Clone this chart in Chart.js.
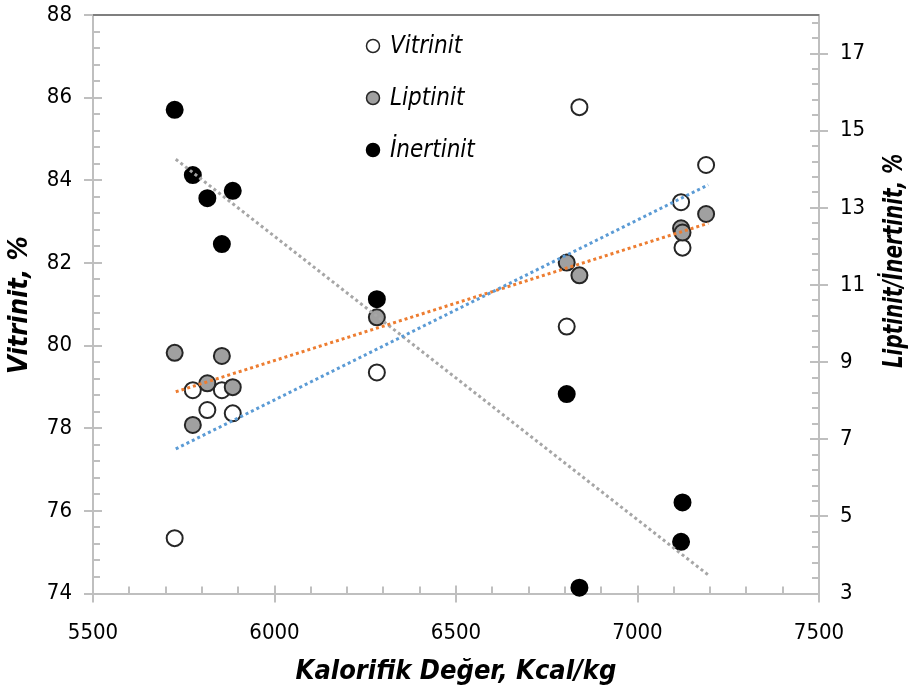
<!DOCTYPE html>
<html lang="tr">
<head>
<meta charset="UTF-8">
<title>Kalorifik Değer - Maseral</title>
<script src="https://cdn.jsdelivr.net/npm/chart.js"></script>
<style>
  html, body { margin: 0; padding: 0; background: #fff; }
  #wrap { width: 912px; height: 698px; }
</style>
</head>
<body>
<div id="wrap"><canvas id="chart" width="912" height="698"></canvas></div>
<script>
// values
const kalori    = [5725, 5775, 5815, 5855, 5885, 6282, 6805, 6840, 7120, 7124, 7189];
const vitrinit  = [75.34, 78.92, 78.44, 78.92, 78.36, 79.35, 80.46, 85.77, 83.47, 82.37, 84.37];
const liptinit  = [9.24, 7.37, 8.45, 9.16, 8.35, 10.16, 11.58, 11.25, 12.47, 12.36, 12.84];
const inertinit = [15.54, 13.85, 13.25, 12.06, 13.44, 10.63, 8.17, 3.15, 4.34, 5.36, null];

// dotted trend lines (end points)
const trendX   = [5728, 7195];
const trendVit = [77.50, 83.89];
const trendLip = [8.23, 12.60];
const trendIne = [14.26, 3.48];

const xTicks = [5500, 6000, 6500, 7000, 7500];
const leftTicks = [74, 76, 78, 80, 82, 84, 86, 88];
const rightTicks = [3, 5, 7, 9, 11, 13, 15, 17];

const FONT = "'Liberation Sans Narrow', 'DejaVu Sans Condensed', sans-serif";

function pts(xs, ys) {
    const out = [];
    xs.forEach((x, i) => { if (ys[i] != null) out.push({x: x, y: ys[i]}); });
    return out;
}

function fixTicks(list) {
    return function (axis) { axis.ticks = list.map(v => ({value: v})); };
}

// rotated title, squeezed along its length a bit (original font is narrow)
function vText(ctx, txt, x, y, squeeze) {
    ctx.save();
    ctx.translate(x, y);
    ctx.rotate(-Math.PI / 2);
    ctx.scale(squeeze, 1);
    ctx.fillText(txt, 0, 0);
    ctx.restore();
}

// tick marks like the excel chart: major cross, minor inside
const tickMarks = {
    id: 'tickMarks',
    beforeDatasetsDraw(chart) {
        const {ctx, chartArea: a, scales} = chart;
        ctx.save();
        ctx.strokeStyle = '#bfbfbf';
        ctx.lineWidth = 2;
        const seg = (x1, y1, x2, y2) => { ctx.beginPath(); ctx.moveTo(x1, y1); ctx.lineTo(x2, y2); ctx.stroke(); };

        for (let v = 5500; v <= 7500; v += 100) {
            const px = Math.round(scales.x.getPixelForValue(v));
            if (v % 500 === 0) seg(px, a.bottom - 8, px, a.bottom + 9);
            else seg(px, a.bottom, px, a.bottom - 7);
        }
        for (let i = 0; i <= 35; i++) {
            const v = 74 + i * 0.4;
            const py = Math.round(scales.y.getPixelForValue(v));
            if (i % 5 === 0) seg(a.left - 9, py, a.left + 9, py);
            else seg(a.left, py, a.left + 7, py);
        }
        for (let i = 1; i <= 37; i++) {
            const v = 3 + i * 0.4;
            const py = Math.round(scales.y2.getPixelForValue(v));
            if (i % 5 === 0) seg(a.right - 9, py, a.right + 9, py);
            else seg(a.right, py, a.right - 7, py);
        }
        // top frame line
        ctx.strokeStyle = '#7f7f7f';
        seg(a.left, a.top, a.right, a.top);
        ctx.restore();
    },
    afterDraw(chart) {
        const {ctx, chartArea: a} = chart;
        ctx.save();
        ctx.fillStyle = '#000';

        // legend, stacked
        const items = chart.data.datasets.filter(d => !d.trend);
        items.forEach((d, i) => {
            const y = 46 + i * 52;
            ctx.beginPath();
            ctx.arc(373, y, 6.5, 0, Math.PI * 2);
            ctx.fillStyle = d.backgroundColor;
            ctx.fill();
            ctx.lineWidth = 1.5;
            ctx.strokeStyle = d.borderColor;
            ctx.stroke();
            ctx.fillStyle = '#000';
            ctx.font = 'italic 24px ' + FONT;
            ctx.textBaseline = 'middle';
            ctx.textAlign = 'left';
            ctx.fillText(d.label, 390, y + 1);
        });

        // axis titles
        ctx.font = 'italic bold 27px ' + FONT;
        ctx.textAlign = 'center';
        ctx.textBaseline = 'middle';
        ctx.fillText('Kalorifik Değer, Kcal/kg', (a.left + a.right) / 2, 672);
        vText(ctx, 'Vitrinit, %', 20, 305, 1);
        vText(ctx, 'Liptinit/İnertinit, %', 895, 261, 0.82);

        ctx.restore();
    }
};

const tickFont = {family: FONT, size: 22};
const plain = v => String(v);
const noPad = s => { s.paddingTop = 0; s.paddingBottom = 0; s.width = 93; };

new Chart(document.getElementById('chart'), {
    type: 'scatter',
    data: {
        datasets: [
            {
                label: 'Vitrinit', trend: true,
                data: pts(trendX, trendVit), yAxisID: 'y', showLine: true,
                borderColor: '#5b9bd5', borderWidth: 3, borderDash: [3, 3],
                pointRadius: 0, order: 0
            },
            {
                label: 'Liptinit', trend: true,
                data: pts(trendX, trendLip), yAxisID: 'y2', showLine: true,
                borderColor: '#ed7d31', borderWidth: 3, borderDash: [3, 3],
                pointRadius: 0, order: 0
            },
            {
                label: 'İnertinit', trend: true,
                data: pts(trendX, trendIne), yAxisID: 'y2', showLine: true,
                borderColor: '#a6a6a6', borderWidth: 3, borderDash: [3, 3],
                pointRadius: 0, order: 0
            },
            {
                label: 'Vitrinit',
                data: pts(kalori, vitrinit), yAxisID: 'y',
                backgroundColor: '#ffffff', borderColor: '#262626',
                borderWidth: 2, pointRadius: 8, order: 3
            },
            {
                label: 'Liptinit',
                data: pts(kalori, liptinit), yAxisID: 'y2',
                backgroundColor: '#a0a0a0', borderColor: '#262626',
                borderWidth: 2, pointRadius: 8, order: 2
            },
            {
                label: 'İnertinit',
                data: pts(kalori, inertinit), yAxisID: 'y2',
                backgroundColor: '#000000', borderColor: '#000000',
                borderWidth: 2, pointRadius: 8, order: 1
            }
        ]
    },
    options: {
        responsive: false,
        animation: false,
        clip: false,
        layout: {padding: {top: 15}},
        plugins: {
            legend: {display: false},
            tooltip: {enabled: false}
        },
        scales: {
            x: {
                type: 'linear', min: 5500, max: 7500,
                afterBuildTicks: fixTicks(xTicks),
                afterFit(s) { s.height = 104.5; s.paddingLeft = 0; s.paddingRight = 0; },
                grid: {display: false, drawTicks: false},
                border: {color: '#bfbfbf', width: 2},
                ticks: {font: tickFont, color: '#000', padding: 27, maxRotation: 0, callback: plain}
            },
            y: {
                position: 'left', min: 74, max: 88,
                afterBuildTicks: fixTicks(leftTicks),
                afterFit: noPad,
                grid: {display: false, drawTicks: false},
                border: {color: '#bfbfbf', width: 2},
                ticks: {font: tickFont, color: '#000', padding: 21, callback: plain}
            },
            y2: {
                position: 'right', min: 3, max: 18,
                afterBuildTicks: fixTicks(rightTicks),
                afterFit: noPad,
                grid: {display: false, drawTicks: false},
                border: {color: '#bfbfbf', width: 2},
                ticks: {font: tickFont, color: '#000', padding: 21, callback: plain}
            }
        }
    },
    plugins: [tickMarks]
});
</script>
</body>
</html>
